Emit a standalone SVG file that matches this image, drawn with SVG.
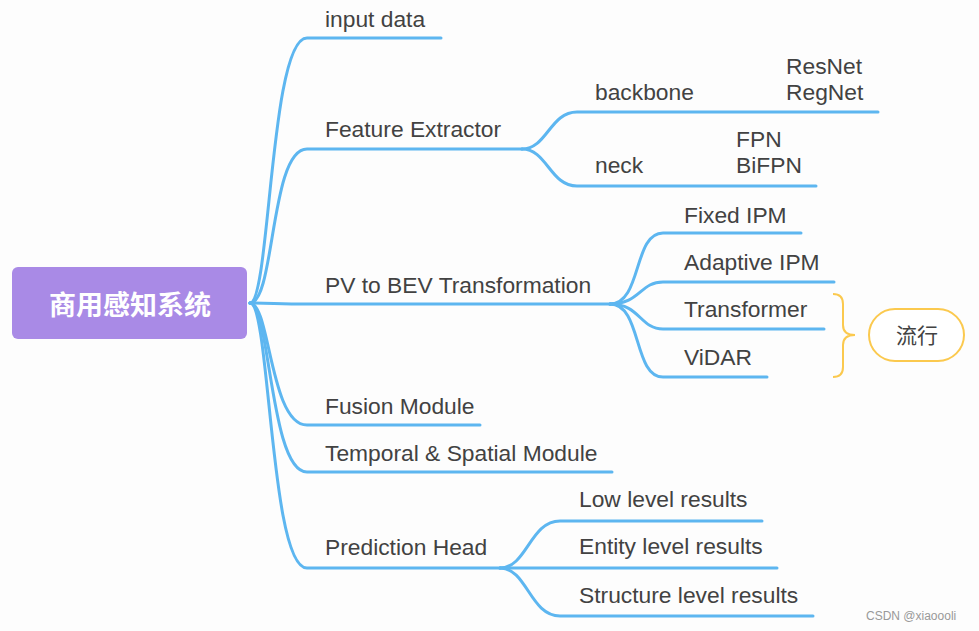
<svg xmlns="http://www.w3.org/2000/svg" width="979" height="631" viewBox="0 0 979 631">
<style>
.c{fill:none;stroke:#5db6f0;stroke-width:3;stroke-linecap:round}
.t{font-family:"Liberation Sans",Arial,sans-serif;font-size:22.8px;fill:#424242}
.cjk{font-family:"Noto Sans CJK SC","Noto Sans",sans-serif}
</style>
<rect width="979" height="631" fill="#fdfdfd"/>
<g id="connectors">
<path class="c" d="M250,303 C270,303 270,38 307,38 L441,38"/>
<path class="c" d="M250,303 C275,303 270,149 307,149 L522,149"/>
<path class="c" d="M250,303 C270,303 280,304 307,304 L610,304"/>
<path class="c" d="M250,303 C270,303 270,425 307,425 L480,425"/>
<path class="c" d="M250,303 C270,303 270,472 307,472 L612,472"/>
<path class="c" d="M250,303 C270,303 270,568 307,568 L500,568"/>
<path class="c" d="M522,149 C547,149 550,112 577,112 L878,112"/>
<path class="c" d="M522,149 C547,149 550,186 577,186 L816,186"/>
<path class="c" d="M610,304 C642,304 633,233 663,233 L801,233"/>
<path class="c" d="M610,304 C640,304 640,282 663,282 L834,282"/>
<path class="c" d="M610,304 C640,304 640,329 663,329 L824,329"/>
<path class="c" d="M610,304 C642,304 633,377 663,377 L767,377"/>
<path class="c" d="M500,568 C527,568 530,521 560,521 L762,521"/>
<path class="c" d="M500,568 L777,568"/>
<path class="c" d="M500,568 C527,568 530,616 560,616 L813,616"/>
<path d="M833,294 Q843,294 843,304 L843,325 Q843,335 855,335 Q843,335 843,345 L843,367 Q843,377 833,377" fill="none" stroke="#fbc94e" stroke-width="2"/>
</g>
<g id="root">
<rect x="12" y="267" width="235" height="72" rx="6" fill="#a98ae6"/>
<text x="130" y="315" text-anchor="middle" class="cjk" font-size="27" font-weight="bold" fill="#fff">商用感知系统</text>
</g>
<g id="input-data"><text class="t" x="325" y="27">input data</text></g>
<g id="feature-extractor"><text class="t" x="325" y="137">Feature Extractor</text></g>
<g id="backbone"><text class="t" x="595" y="100">backbone</text></g>
<g id="resnet"><text class="t" x="786" y="74">ResNet</text><text class="t" x="786" y="100">RegNet</text></g>
<g id="neck"><text class="t" x="595" y="173">neck</text></g>
<g id="fpn"><text class="t" x="736" y="147">FPN</text><text class="t" x="736" y="173">BiFPN</text></g>
<g id="pv-bev"><text class="t" x="325" y="293">PV to BEV Transformation</text></g>
<g id="fixed-ipm"><text class="t" x="684" y="223">Fixed IPM</text></g>
<g id="adaptive-ipm"><text class="t" x="684" y="270">Adaptive IPM</text></g>
<g id="transformer"><text class="t" x="684" y="317">Transformer</text></g>
<g id="vidar"><text class="t" x="684" y="365">ViDAR</text></g>
<g id="popular">
<rect x="869" y="309" width="95" height="52" rx="26" fill="#fff" stroke="#fbc94e" stroke-width="2"/>
<text x="917" y="343" text-anchor="middle" class="cjk" font-size="21" fill="#424242">流行</text>
</g>
<g id="fusion"><text class="t" x="325" y="414">Fusion Module</text></g>
<g id="temporal"><text class="t" x="325" y="461">Temporal &amp; Spatial Module</text></g>
<g id="prediction"><text class="t" x="325" y="555">Prediction Head</text></g>
<g id="low"><text class="t" x="579" y="507">Low level results</text></g>
<g id="entity"><text class="t" x="579" y="554">Entity level results</text></g>
<g id="structure"><text class="t" x="579" y="603">Structure level results</text></g>
<text x="866" y="620" font-family="Liberation Sans,sans-serif" font-size="12" fill="#999">CSDN @xiaoooli</text>
</svg>
